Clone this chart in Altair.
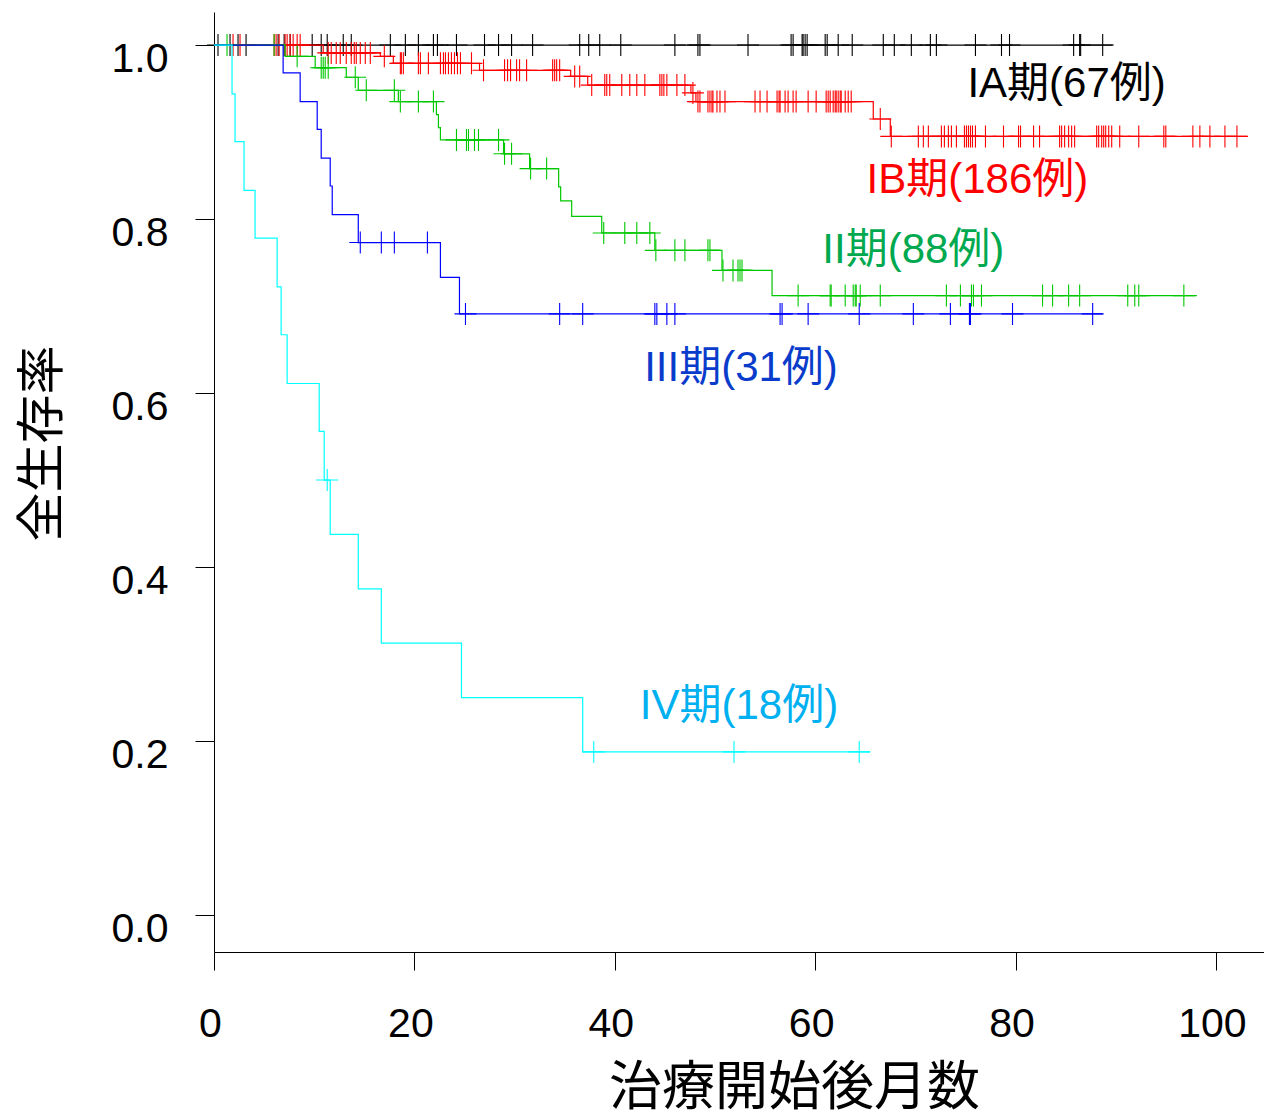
import altair as alt
import pandas as pd
import numpy as np

# ---------------- data ----------------
groups = ["IA", "IB", "II", "III", "IV"]
line_colors = ["#000000", "#ff0000", "#00c800", "#0000ff", "#00ffff"]

# IA: no events
ia_event_t = []
ia_event_s = []
ia_end = 89.7
ia_censor = [0.4, 1.6, 2.4, 3.2, 6.4, 7.0, 7.6, 9.8, 10.7, 11.3, 12.9, 13.7, 17.6, 19.1,
             20.4, 21.9, 22.3, 24.2, 27.0, 28.4, 29.7, 31.8, 36.5, 37.4, 38.5, 40.6, 46.0,
             48.3, 48.5, 53.3, 57.6, 57.8, 58.7, 58.8, 59.0, 59.2, 61.0, 61.2, 62.3, 63.7,
             66.8, 67.9, 69.6, 71.5, 72.1, 76.0, 78.6, 79.4, 85.8, 86.4, 86.5, 88.7]

# IB
ib_event_t = [10.9, 16.6, 17.9, 26.5, 35.6, 37.3, 47.6, 48.1, 65.8, 67.5]
ib_event_s = [0.991, 0.987, 0.979, 0.971, 0.964, 0.954, 0.945, 0.935, 0.915, 0.895]
ib_end = 103.1
ib_censor = [1.9, 2.6, 6.0, 6.2, 6.5, 7.1, 7.3, 7.6, 7.9, 8.3, 8.6,
             11.4, 11.7, 12.2, 12.6, 13.2, 13.7, 14.0, 14.2, 14.6, 15.1, 15.6,
             17.0,
             18.6, 18.7, 18.9, 20.4, 20.6, 21.4, 22.6, 22.9, 23.1, 23.4, 23.7, 24.0, 24.3,
             24.6, 25.7,
             26.9, 29.0, 29.3, 29.6, 30.2, 30.5, 31.2, 33.8, 34.0, 34.2, 34.5,
             36.0, 36.5,
             37.7, 39.0, 39.2, 39.5, 40.7, 41.5, 42.2, 43.0, 44.5, 44.7, 44.9, 45.2, 46.2,
             47.0, 47.8,
             48.3, 48.5, 49.3, 49.5, 49.7, 49.8, 50.2, 50.5, 51.0, 54.0, 54.5, 55.2, 56.2,
             56.4, 56.5, 57.0, 57.3, 57.8, 58.1, 59.3, 60.1, 61.1, 61.3, 61.5, 61.8, 62.0,
             62.1, 62.3, 62.5, 62.6, 63.0, 63.3, 63.6,
             66.5,
             67.6, 70.3, 70.8, 71.3, 72.6, 72.9, 73.3, 73.6, 74.1, 74.9, 75.1, 75.3, 75.5,
             75.7, 76.0, 77.0, 78.8, 80.3, 80.5, 81.8, 82.4, 84.4, 84.6, 84.9, 85.3, 85.6,
             85.9, 88.1, 88.3, 88.6, 88.8, 89.0, 89.3, 89.6, 90.4, 92.3, 94.8, 95.0, 97.7,
             98.4, 99.4, 100.9, 102.1]

# II
ii_event_t = [7.1, 10.1, 13.2, 14.4, 18.4, 22.2, 22.4, 22.6, 28.9, 31.5, 34.4, 34.6,
              35.7, 38.7, 44.0, 50.7, 55.7]
ii_event_s = [0.987, 0.974, 0.963, 0.948, 0.935, 0.920, 0.905, 0.891, 0.875, 0.858,
              0.837, 0.821, 0.803, 0.784, 0.764, 0.741, 0.712]
ii_end = 98.1
ii_censor = [1.3, 6.0, 8.3, 10.7, 10.9, 11.1, 11.4, 14.1, 15.2, 18.0, 18.6, 20.4, 21.9,
             24.2, 25.2, 25.4, 26.0, 26.4, 28.4, 29.0, 29.7, 31.6, 33.2, 38.9, 41.0, 42.2,
             43.5, 44.1, 46.0, 47.0, 49.3, 49.5, 50.8, 51.8, 52.3, 52.5, 52.7, 58.3, 61.5,
             61.6, 63.0, 63.8, 64.0, 64.1, 64.5, 66.5, 73.1, 74.5, 75.6, 75.8, 76.6, 82.7,
             83.7, 85.3, 86.4, 91.2, 91.9, 92.3, 96.8]

# III
iii_event_t = [6.9, 8.6, 10.3, 10.7, 11.6, 11.8, 14.4, 22.6, 24.5]
iii_event_s = [0.968, 0.935, 0.903, 0.870, 0.838, 0.805, 0.773, 0.733, 0.691]
iii_end = 88.7
iii_censor = [14.6, 16.7, 18.0, 21.3, 25.1, 34.5, 36.8, 44.0, 44.2, 45.2, 46.0, 56.5,
              56.7, 59.3, 64.4, 69.8, 73.5, 75.4, 75.5, 79.7, 87.7]

# IV
iv_event_t = [1.8, 2.1, 3.0, 4.1, 6.3, 6.7, 7.3, 10.5, 11.0, 11.6, 14.4, 16.7, 24.7, 36.8]
iv_event_s = [0.944, 0.889, 0.833, 0.778, 0.722, 0.667, 0.611, 0.556, 0.500, 0.4375,
              0.375, 0.3125, 0.250, 0.1875]
iv_end = 65.5
iv_censor = [11.3, 37.9, 51.9, 64.4]

label_texts = ["IA期(67例)", "IB期(186例)", "II期(88例)", "III期(31例)", "IV期(18例)"]
label_colors = ["#000000", "#ff0000", "#00a94f", "#0a3ccc", "#00b0f0"]
label_t = [85.1, 76.2, 69.8, 52.6, 52.4]
label_s = [0.955, 0.845, 0.764, 0.629, 0.240]

# ---------------- build tables ----------------
series = {
    "IA": (ia_event_t, ia_event_s, ia_end, ia_censor),
    "IB": (ib_event_t, ib_event_s, ib_end, ib_censor),
    "II": (ii_event_t, ii_event_s, ii_end, ii_censor),
    "III": (iii_event_t, iii_event_s, iii_end, iii_censor),
    "IV": (iv_event_t, iv_event_s, iv_end, iv_censor),
}

def step_value(ev_t, ev_s, t):
    idx = np.searchsorted(np.array(ev_t, dtype=float), t, side="right") - 1
    return 1.0 if idx < 0 else ev_s[idx]

xs = alt.Scale(domain=[0, 104.8], nice=False, zero=False)
ys = alt.Scale(domain=[-0.0425, 1.038], nice=False, zero=False)

x_axis = alt.Axis(values=[0, 20, 40, 60, 80, 100], format="d", title="治療開始後月数",
                  tickSize=18, labelPadding=34, labelOffset=-4, labelFontSize=41,
                  labelFont="Liberation Sans", labelColor="#000000", grid=False,
                  domainColor="#000000", tickColor="#000000", domainWidth=1, tickWidth=1,
                  titleFont="Noto Sans CJK JP", titleFontSize=53, titleFontWeight="normal",
                  titleColor="#000000", titleX=580, titleY=136, titleBaseline="middle",
                  titleAlign="center", labelFlush=False)
y_axis = alt.Axis(values=[0.0, 0.2, 0.4, 0.6, 0.8, 1.0], format=".1f", title="全生存率",
                  tickSize=19, labelPadding=27, labelOffset=14, labelFontSize=41,
                  labelFont="Liberation Sans", labelColor="#000000", grid=False,
                  domainColor="#000000", tickColor="#000000", domainWidth=1, tickWidth=1,
                  titleFont="Noto Sans CJK JP", titleFontSize=49, titleFontWeight="normal",
                  titleColor="#000000", titleX=-172, titleY=431, titleBaseline="middle",
                  titleAlign="center", titleAngle=270, labelFlush=False)

layers = []
for g, col in zip(groups, line_colors):
    ev_t, ev_s, end, cens = series[g]
    lt = [0.0] + list(ev_t) + [end]
    ls = [1.0] + list(ev_s) + [ev_s[-1] if ev_s else 1.0]
    ldf = pd.DataFrame({"t": lt, "s": ls})
    cdf = pd.DataFrame({"t": cens, "s": [step_value(ev_t, ev_s, c) for c in cens]})
    line = alt.Chart(ldf).mark_line(interpolate="step-after", color=col, strokeWidth=1.2).encode(
        x=alt.X("t:Q", scale=xs, axis=x_axis),
        y=alt.Y("s:Q", scale=ys, axis=y_axis),
    )
    pts = alt.Chart(cdf).mark_point(shape="M-1,0L1,0M0,-1L0,1", size=484, filled=False,
                                    color=col, strokeWidth=1.1, opacity=1).encode(
        x=alt.X("t:Q", scale=xs, axis=x_axis),
        y=alt.Y("s:Q", scale=ys, axis=y_axis),
    )
    layers += [line, pts]

lab_df = pd.DataFrame({"t": label_t, "s": label_s, "text": label_texts, "c": label_colors})
labels = alt.Chart(lab_df).mark_text(font="'Liberation Sans', 'Noto Sans CJK JP'", fontSize=42,
                                     align="center", baseline="middle").encode(
    x=alt.X("t:Q", scale=xs, axis=x_axis),
    y=alt.Y("s:Q", scale=ys, axis=y_axis),
    text="text:N",
    color=alt.Color("c:N", scale=None),
)
layers.append(labels)

chart = alt.layer(*layers).properties(
    width=1050, height=940,
    autosize=alt.AutoSizeParams(type="none"),
    padding={"left": 206, "top": 4, "right": 0, "bottom": 158},
    background="#ffffff",
).configure_view(stroke=None)

chart.save("out.html", embed_options={"renderer": "svg", "actions": False})
